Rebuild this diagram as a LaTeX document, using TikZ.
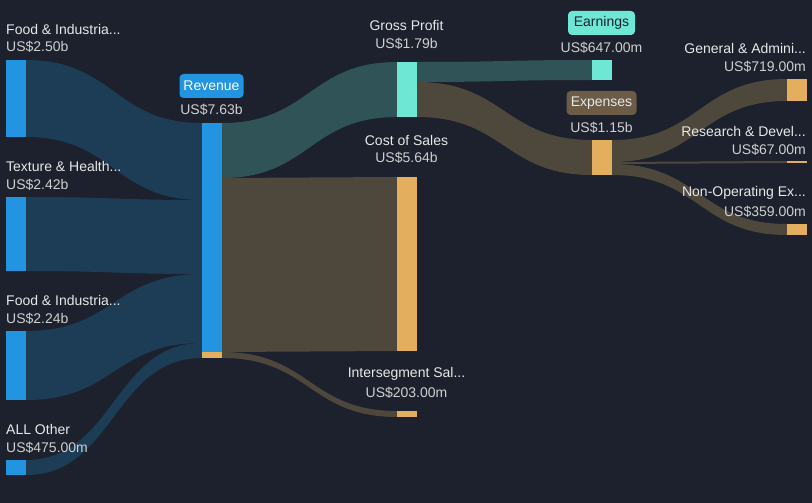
\documentclass[tikz,border=0pt]{standalone}
\usepackage{fontspec}
\setmainfont{Liberation Sans}
\definecolor{bg}{HTML}{1C212D}
\definecolor{nblue}{HTML}{2394DF}
\definecolor{fblue}{HTML}{1D3D57}
\definecolor{nteal}{HTML}{6EE8D5}
\definecolor{fteal}{HTML}{2F5356}
\definecolor{norange}{HTML}{E4AE5F}
\definecolor{fbrown}{HTML}{4E473C}
\definecolor{pbrown}{HTML}{6C5B47}
\definecolor{lbl}{HTML}{E8E8E8}
\definecolor{val}{HTML}{CFCFCF}
\newcommand{\flowband}[7]{%
  \fill[#7] (#1,#2) .. controls ({(#1+#4)/2},#2) and ({(#1+#4)/2},#5) .. (#4,#5)
    -- (#4,#6) .. controls ({(#1+#4)/2},#6) and ({(#1+#4)/2},#3) .. (#1,#3) -- cycle;}
\begin{document}
\begin{tikzpicture}[x=1pt,y=-1pt,
  bar/.style={draw=none,inner sep=0pt,outer sep=0pt,minimum width=20pt,anchor=north west},
  pill/.style={rounded corners=4pt,inner sep=0pt,minimum height=24pt,font=\fontsize{14}{16}\selectfont},
  lab/.style={text=lbl,inner sep=0pt,font=\fontsize{14}{16}\selectfont},
  vlab/.style={text=val,inner sep=0pt,font=\fontsize{14}{16}\selectfont}]
\fill[bg] (0,0) rectangle (812,503);
\useasboundingbox (0,0) rectangle (812,503);
% flows
\flowband{26}{60}{137}{202}{123}{200}{fblue}
\flowband{26}{197}{271}{202}{200}{274}{fblue}
\flowband{26}{331}{400}{202}{274}{343}{fblue}
\flowband{26}{460}{475}{202}{343}{358}{fblue}
\flowband{222}{123}{178}{397}{62}{117}{fteal}
\flowband{222}{178}{352}{397}{177}{351}{fbrown}
\flowband{222}{352}{358}{397}{411}{417}{fbrown}
\flowband{417}{62}{82}{592}{60}{80}{fteal}
\flowband{417}{82}{117}{592}{140}{175}{fbrown}
\flowband{612}{140}{162}{787}{79}{101}{fbrown}
\flowband{612}{162}{164}{787}{161}{163}{fbrown}
\flowband{612}{164}{175}{787}{224}{235}{fbrown}
% bars
\node[bar,fill=nblue,minimum height=77pt] (food1) at (6,60) {};
\node[bar,fill=nblue,minimum height=74pt] (texture) at (6,197) {};
\node[bar,fill=nblue,minimum height=69pt] (food2) at (6,331) {};
\node[bar,fill=nblue,minimum height=15pt] (other) at (6,460) {};
\node[bar,fill=nblue,minimum height=229pt] (rev) at (202,123) {};
\node[bar,fill=norange,minimum height=6pt] (revx) at (202,352) {};
\node[bar,fill=nteal,minimum height=55pt] (gp) at (397,62) {};
\node[bar,fill=norange,minimum height=174pt] (cos) at (397,177) {};
\node[bar,fill=norange,minimum height=6pt] (inter) at (397,411) {};
\node[bar,fill=nteal,minimum height=20pt] (earn) at (592,60) {};
\node[bar,fill=norange,minimum height=35pt] (exp) at (592,140) {};
\node[bar,fill=norange,minimum height=22pt] (ga) at (787,79) {};
\node[bar,fill=norange,minimum height=2pt] (rd) at (787,161) {};
\node[bar,fill=norange,minimum height=11pt] (nonop) at (787,224) {};
% left labels
\node[lab,anchor=west] (l1) at (6,29) {Food \& Industria...};
\node[vlab,anchor=west] (v1) at (6,47) {US\$2.50b};
\node[lab,anchor=west] (l2) at (6,166) {Texture \& Health...};
\node[vlab,anchor=west] (v2) at (6,185) {US\$2.42b};
\node[lab,anchor=west] (l3) at (6,300) {Food \& Industria...};
\node[vlab,anchor=west] (v3) at (6,319) {US\$2.24b};
\node[lab,anchor=west] (l4) at (6,429) {ALL Other};
\node[vlab,anchor=west] (v4) at (6,448) {US\$475.00m};
% revenue
\node[pill,fill=nblue,text=white,minimum width=64pt] (revp) at (211.5,86) {Revenue};
\node[vlab] (vrev) at (211.5,110) {US\$7.63b};
% middle
\node[lab] (lgp) at (406.5,25) {Gross Profit};
\node[vlab] (vgp) at (406.5,44) {US\$1.79b};
\node[lab] (lcos) at (406.5,140) {Cost of Sales};
\node[vlab] (vcos) at (406.5,158) {US\$5.64b};
\node[lab] (lint) at (406.5,374) {Intersegment Sal...};
\node[vlab] (vint) at (406.5,393) {US\$203.00m};
% earnings / expenses
\node[pill,fill=nteal,text=bg,minimum width=67pt] (earnp) at (601.5,23) {Earnings};
\node[vlab] (vearn) at (601.5,48) {US\$647.00m};
\node[pill,fill=pbrown,text=lbl,minimum width=70pt] (expp) at (601.5,103) {Expenses};
\node[vlab] (vexp) at (601.5,128) {US\$1.15b};
% right labels
\node[lab,anchor=east] (lga) at (806,48) {General \& Admini...};
\node[vlab,anchor=east] (vga) at (806,67) {US\$719.00m};
\node[lab,anchor=east] (lrd) at (806,131) {Research \& Devel...};
\node[vlab,anchor=east] (vrd) at (806,150) {US\$67.00m};
\node[lab,anchor=east] (lno) at (806,193) {Non-Operating Ex...};
\node[vlab,anchor=east] (vno) at (806,212) {US\$359.00m};
\end{tikzpicture}
\end{document}
